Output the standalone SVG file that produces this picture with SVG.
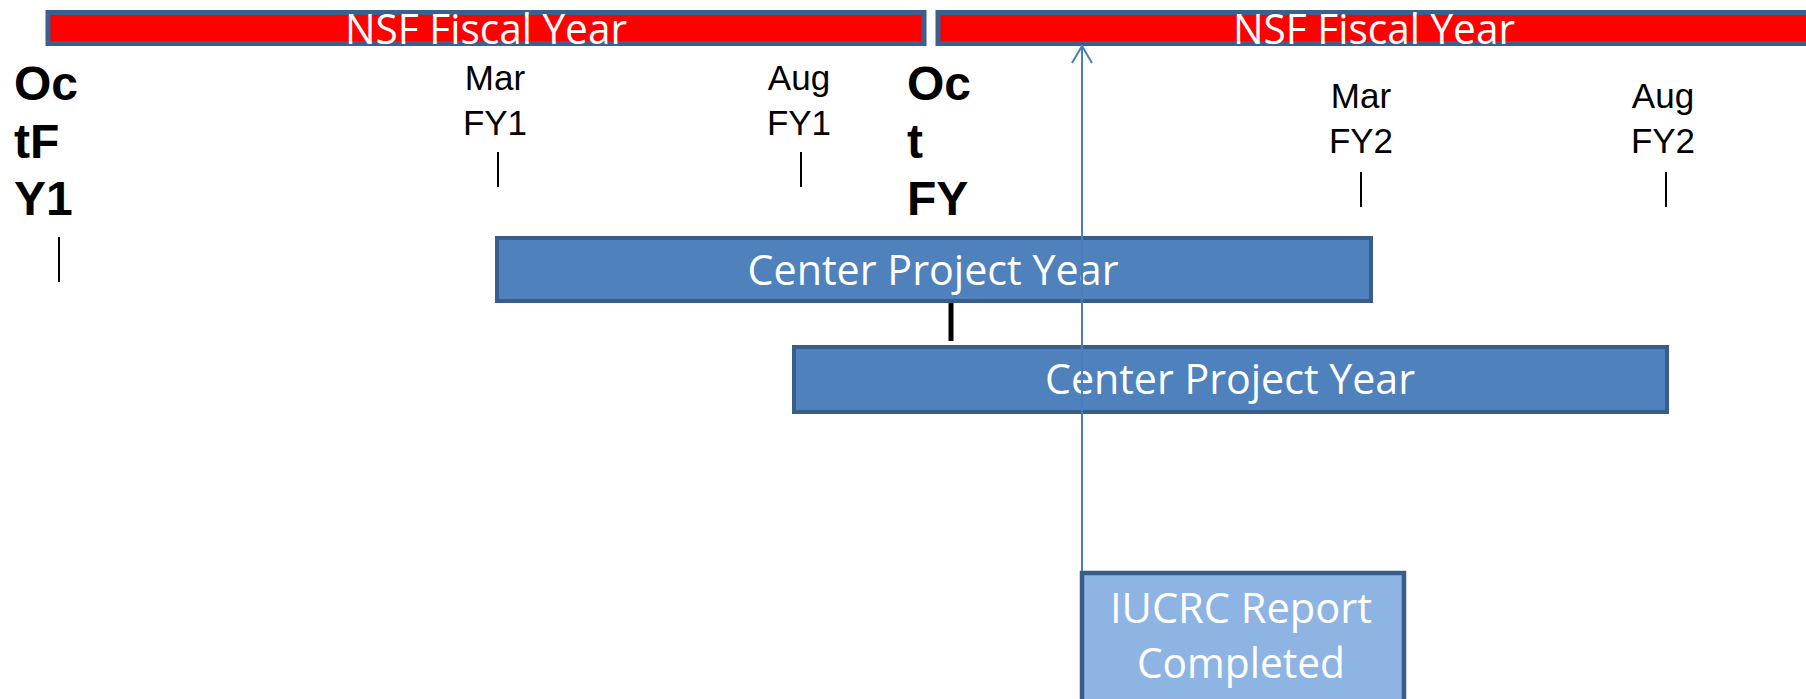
<svg xmlns="http://www.w3.org/2000/svg" width="1806" height="699" viewBox="0 0 1806 699">
<style>
.fy{fill:#ff0000;stroke:#3b5f8f;stroke-width:5}
.cpy{fill:#4f81bd;stroke:#385d8a;stroke-width:4}
.rep{fill:#8eb4e3;stroke:#385d8a;stroke-width:4.5}
.wt{fill:#ffffff;font-family:"Open Sans","Noto Sans",sans-serif;font-size:42px;text-anchor:middle}
.bd{fill:#000000;font-family:"Liberation Sans",Arial,sans-serif;font-size:48px;font-weight:bold}
.mo{fill:#000000;font-family:"Liberation Sans",Arial,sans-serif;font-size:35px;text-anchor:middle}
.tick{stroke:#000000;stroke-width:2}
.conn{stroke:#4a7ebb;stroke-width:2;fill:none}
</style>
<rect width="1806" height="699" fill="#ffffff"/>
<g id="fy1">
<rect class="fy" x="48" y="12.5" width="876" height="31"/>
<text class="wt" x="486" y="44" font-size="41" textLength="282" lengthAdjust="spacingAndGlyphs">NSF Fiscal Year</text>
</g>
<g id="fy2">
<rect class="fy" x="938" y="12.5" width="876" height="31"/>
<text class="wt" x="1374" y="44" font-size="41" textLength="282" lengthAdjust="spacingAndGlyphs">NSF Fiscal Year</text>
</g>
<g id="oct1">
<text class="bd" x="14" y="100">Oc</text>
<text class="bd" x="14" y="158">tF</text>
<text class="bd" x="14" y="215">Y1</text>
<line class="tick" x1="59" y1="237" x2="59" y2="282"/>
</g>
<g id="mar1">
<text class="mo" x="495" y="90">Mar</text>
<text class="mo" x="495" y="135">FY1</text>
<line class="tick" x1="498" y1="152" x2="498" y2="187"/>
</g>
<g id="aug1">
<text class="mo" x="799" y="90">Aug</text>
<text class="mo" x="799" y="135">FY1</text>
<line class="tick" x1="801" y1="152" x2="801" y2="187"/>
</g>
<g id="oct2">
<text class="bd" x="907" y="100">Oc</text>
<text class="bd" x="907" y="158">t</text>
<text class="bd" x="907" y="215">FY</text>
</g>
<g id="mar2">
<text class="mo" x="1361" y="108">Mar</text>
<text class="mo" x="1361" y="153">FY2</text>
<line class="tick" x1="1361" y1="172" x2="1361" y2="207"/>
</g>
<g id="aug2">
<text class="mo" x="1663" y="108">Aug</text>
<text class="mo" x="1663" y="153">FY2</text>
<line class="tick" x1="1666" y1="172" x2="1666" y2="207"/>
</g>
<g id="cpy1">
<rect class="cpy" x="497" y="238" width="874" height="63"/>
<text class="wt" x="933" y="285" textLength="371" lengthAdjust="spacingAndGlyphs">Center Project Year</text>
</g>
<line id="mark" x1="951" y1="303" x2="951" y2="341" stroke="#000000" stroke-width="5"/>
<g id="cpy2">
<rect class="cpy" x="794" y="347" width="873" height="65"/>
<text class="wt" x="1230" y="394" textLength="370" lengthAdjust="spacingAndGlyphs">Center Project Year</text>
</g>
<g id="report">
<rect class="rep" x="1082" y="573" width="322" height="140"/>
<text class="wt" x="1241" y="623" textLength="262" lengthAdjust="spacingAndGlyphs">IUCRC Report</text>
<text class="wt" x="1241" y="678" textLength="208" lengthAdjust="spacingAndGlyphs">Completed</text>
</g>
<g id="connectors">
<line class="conn" x1="1082" y1="571" x2="1082" y2="46"/>
<polyline class="conn" points="1072,63 1082,46 1092,63"/>
</g>
</svg>
